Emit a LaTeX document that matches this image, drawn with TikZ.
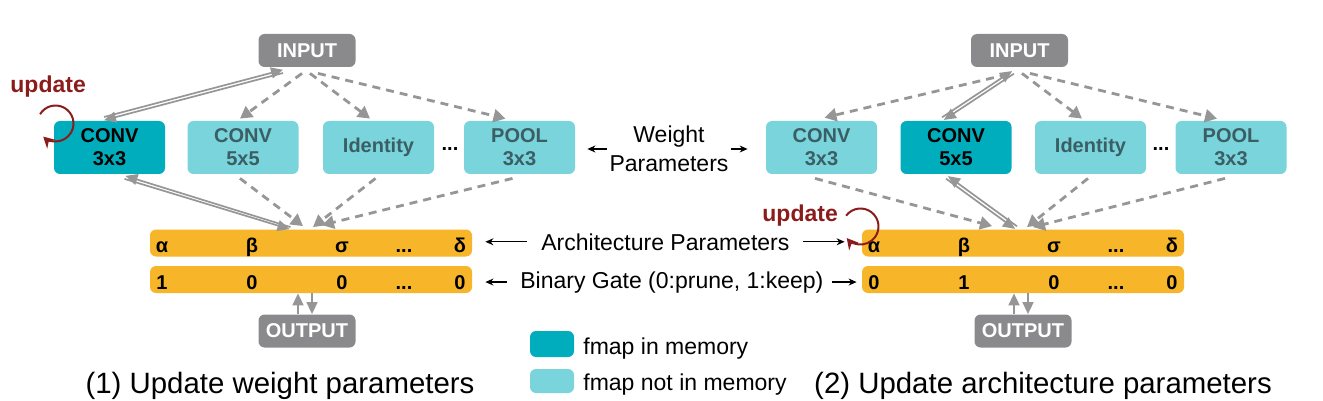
\documentclass[tikz,border=0pt]{standalone}
\usepackage{fontspec}
\setmainfont{Liberation Sans}
\usetikzlibrary{arrows.meta,calc}

\definecolor{memdark}{RGB}{0,173,189}
\definecolor{memlight}{RGB}{121,212,219}
\definecolor{optext}{RGB}{58,94,99}
\definecolor{paramorange}{RGB}{247,181,41}
\definecolor{iogray}{RGB}{138,138,140}
\definecolor{linegray}{RGB}{150,150,150}
\definecolor{updred}{RGB}{139,28,28}

\tikzset{
  opbox/.style={rectangle, rounded corners=3pt, minimum width=55.5pt, minimum height=26.5pt, inner sep=0pt, align=center, font=\fontsize{10}{11.5}\selectfont\bfseries},
  inmem/.style={opbox, fill=memdark, text=black},
  notmem/.style={opbox, fill=memlight, text=optext},
  iobox/.style={rectangle, rounded corners=3pt, fill=iogray, text=white, minimum width=48.5pt, minimum height=16.5pt, inner sep=0pt, font=\fontsize{10}{12}\selectfont\bfseries},
  parambar/.style={rectangle, rounded corners=3pt, fill=paramorange, minimum width=161pt, minimum height=13.5pt, inner sep=0pt},
  barval/.style={anchor=base, inner sep=0pt, font=\fontsize{10}{12}\selectfont\bfseries},
  note/.style={inner sep=0pt, font=\fontsize{11.5}{14.5}\selectfont},
  dasharrow/.style={draw=linegray, line width=1.4pt, dash pattern=on 4pt off 3pt, -{Triangle[length=6pt,width=6.5pt]}},
  patharrow/.style={draw=linegray, line width=0.85pt, -{Triangle[length=6pt,width=5.5pt]}},
  blkarrow/.style={line width=0.6pt, -{Stealth[length=4pt,width=3.5pt]}},
  updarrow/.style={draw=updred, line width=1pt, -{Stealth[length=5.5pt,width=6pt]}},
}

\begin{document}
\begin{tikzpicture}[x=0.5pt,y=-0.5pt]
    \useasboundingbox (0,0) rectangle (1323,401);

    % (1) update weight parameters
    \node[iobox] (in1) at (307,50.5) {INPUT};
    \node[inmem] (c31) at (109.5,147.5) {CONV\\3x3};
    \node[notmem] (c51) at (243,147.5) {CONV\\5x5};
    \node[notmem] (id1) at (378.5,147.5) {Identity};
    \node[font=\fontsize{10}{12}\selectfont\bfseries] (dots1) at (450,149) {...};
    \node[notmem] (pl1) at (519.5,147.5) {POOL\\3x3};
    \node[parambar] (a1) at (311,243) {};
    \node[barval] (a1a) at (162,252) {α};
    \node[barval] (a1b) at (252,252) {β};
    \node[barval] (a1c) at (342,252) {σ};
    \node[barval] (a1d) at (404,252) {...};
    \node[barval] (a1e) at (460,252) {δ};
    \node[parambar] (g1) at (311,279.5) {};
    \node[barval] (g1a) at (162,289) {1};
    \node[barval] (g1b) at (252,289) {0};
    \node[barval] (g1c) at (342,289) {0};
    \node[barval] (g1d) at (404,289) {...};
    \node[barval] (g1e) at (460,289) {0};
    \node[iobox] (out1) at (307,331) {OUTPUT};

    \draw[dasharrow] ($(in1.south)+(-5,6)$) -- ($(c51.north)+(-3,-2)$);
    \draw[dasharrow] ($(in1.south)+(3,6)$) -- ($(id1.north)+(-8.5,-2)$);
    \draw[dasharrow] ($(in1.south)+(11,6)$) -- ($(pl1.north)+(-14,-2)$);
    \draw[dasharrow] ($(c51.south)+(-3,4)$) -- ($(a1.north)+(-8,-3)$);
    \draw[dasharrow] ($(id1.south)+(-3,4)$) -- ($(a1.north)+(2,-2)$);
    \draw[dasharrow] ($(pl1.south)+(-7,4)$) -- ($(a1.north)+(11,-4)$);
    \draw[patharrow] ($(c31.north)+(-5.5,-3.6)$) -- ($(in1.south)+(-24,2.4)$);
    \draw[patharrow] ($(in1.south)+(-24,5.6)$) -- ($(c31.north)+(-5.5,-0.4)$);
    \draw[patharrow] ($(a1.north)+(-20.5,-2)$) -- ($(c31.south)+(16,1.5)$);
    \draw[patharrow] ($(c31.south)+(15,4.5)$) -- ($(a1.north)+(-21.5,0)$);
    \draw[patharrow] ($(out1.north)+(-9,0)$) -- ($(g1.south)+(-13,0)$);
    \draw[patharrow] ($(g1.south)+(1,0)$) -- ($(out1.north)+(5,0)$);

    \node[font=\fontsize{11.5}{14}\selectfont\bfseries, text=updred, anchor=base west, inner sep=0pt] (up1) at (10,93) {update};
    \coordinate (u1) at (55.5,123.5);
    \draw[updarrow] (u1) ++(149:9pt) arc[start angle=149, end angle=-133, radius=9pt];

    % (2) update architecture parameters
    \node[iobox] (in2) at (1019.5,50.5) {INPUT};
    \node[notmem] (c32) at (821.5,147.5) {CONV\\3x3};
    \node[inmem] (c52) at (956,147.5) {CONV\\5x5};
    \node[notmem] (id2) at (1090.5,147.5) {Identity};
    \node[font=\fontsize{10}{12}\selectfont\bfseries] (dots2) at (1161,149) {...};
    \node[notmem] (pl2) at (1231,147.5) {POOL\\3x3};
    \node[parambar] (a2) at (1023,243) {};
    \node[barval] (a2a) at (874,252) {α};
    \node[barval] (a2b) at (964,252) {β};
    \node[barval] (a2c) at (1054,252) {σ};
    \node[barval] (a2d) at (1116,252) {...};
    \node[barval] (a2e) at (1172,252) {δ};
    \node[parambar] (g2) at (1023,279.5) {};
    \node[barval] (g2a) at (874,289) {0};
    \node[barval] (g2b) at (964,289) {1};
    \node[barval] (g2c) at (1054,289) {0};
    \node[barval] (g2d) at (1116,289) {...};
    \node[barval] (g2e) at (1172,289) {0};
    \node[iobox] (out2) at (1023,331) {OUTPUT};

    \draw[dasharrow] ($(in2.south)+(-12,7)$) -- ($(c32.north)+(3,-3)$);
    \draw[dasharrow] ($(in2.south)+(2.5,6)$) -- ($(id2.north)+(-8.5,-2)$);
    \draw[dasharrow] ($(in2.south)+(10.5,6)$) -- ($(pl2.north)+(-14,-2)$);
    \draw[dasharrow] ($(c32.south)+(-6.5,4)$) -- ($(a2.north)+(-31,-3)$);
    \draw[dasharrow] ($(id2.south)+(-2.5,4)$) -- ($(a2.north)+(4,-2)$);
    \draw[dasharrow] ($(pl2.south)+(-6,4)$) -- ($(a2.north)+(10,-2)$);
    \draw[patharrow] ($(c52.north)+(-13.9,-3.3)$) -- ($(in2.south)+(-7.4,3.7)$);
    \draw[patharrow] ($(in2.south)+(-5.6,6.3)$) -- ($(c52.north)+(-12.1,-0.7)$);
    \draw[patharrow] ($(a2.north)+(-6,-2.8)$) -- ($(c52.south)+(-8,1.7)$);
    \draw[patharrow] ($(c52.south)+(-10,4.3)$) -- ($(a2.north)+(-8,-0.2)$);
    \draw[patharrow] ($(out2.north)+(-9,0)$) -- ($(g2.south)+(-9,0)$);
    \draw[patharrow] ($(g2.south)+(5,0)$) -- ($(out2.north)+(5,0)$);

    \node[font=\fontsize{11.5}{14}\selectfont\bfseries, text=updred, anchor=base west, inner sep=0pt] (up2) at (762,221) {update};
    \coordinate (u2) at (860.5,226.5);
    \draw[updarrow] (u2) ++(143:9pt) arc[start angle=143, end angle=-140, radius=9pt];

    % labels in the middle
    \node[note, align=center] (wp) at (669,149) {Weight\\Parameters};
    \draw[blkarrow, shorten <=1pt, shorten >=6pt] (wp.west) -- (wp.west -| pl1.east);
    \draw[blkarrow, shorten <=1pt, shorten >=9pt] (wp.east) -- (wp.east -| c32.west);
    \node[note, anchor=base west] (ap) at (541,250) {Architecture Parameters};
    \draw[blkarrow, shorten <=7pt, shorten >=6.5pt] (ap.west) -- (ap.west -| a1.east);
    \draw[blkarrow, shorten <=6.5pt, shorten >=8.5pt] (ap.east) -- (ap.east -| a2.west);
    \node[note, anchor=base west] (bg) at (520,288) {Binary Gate (0:prune, 1:keep)};
    \draw[blkarrow, shorten <=6.5pt, shorten >=6.5pt] (bg.west) -- (bg.west -| g1.east);
    \draw[blkarrow, shorten <=4pt, shorten >=2.5pt] (bg.east) -- (bg.east -| g2.west);

    % legend
    \node[rectangle, rounded corners=3pt, fill=memdark, minimum width=22pt, minimum height=13pt, inner sep=0pt] (leg1) at (552,344) {};
    \node[note, anchor=base west] (leg1t) at (583,354) {fmap in memory};
    \node[rectangle, rounded corners=3pt, fill=memlight, minimum width=22pt, minimum height=12pt, inner sep=0pt] (leg2) at (552,381) {};
    \node[note, anchor=base west] (leg2t) at (583,390) {fmap not in memory};

    % captions
    \node[inner sep=0pt, anchor=base, font=\fontsize{14.7}{17}\selectfont] (cap1) at (280,393) {(1) Update weight parameters};
    \node[inner sep=0pt, anchor=base, font=\fontsize{14.7}{17}\selectfont] (cap2) at (1043,393) {(2) Update architecture parameters};
\end{tikzpicture}
\end{document}
